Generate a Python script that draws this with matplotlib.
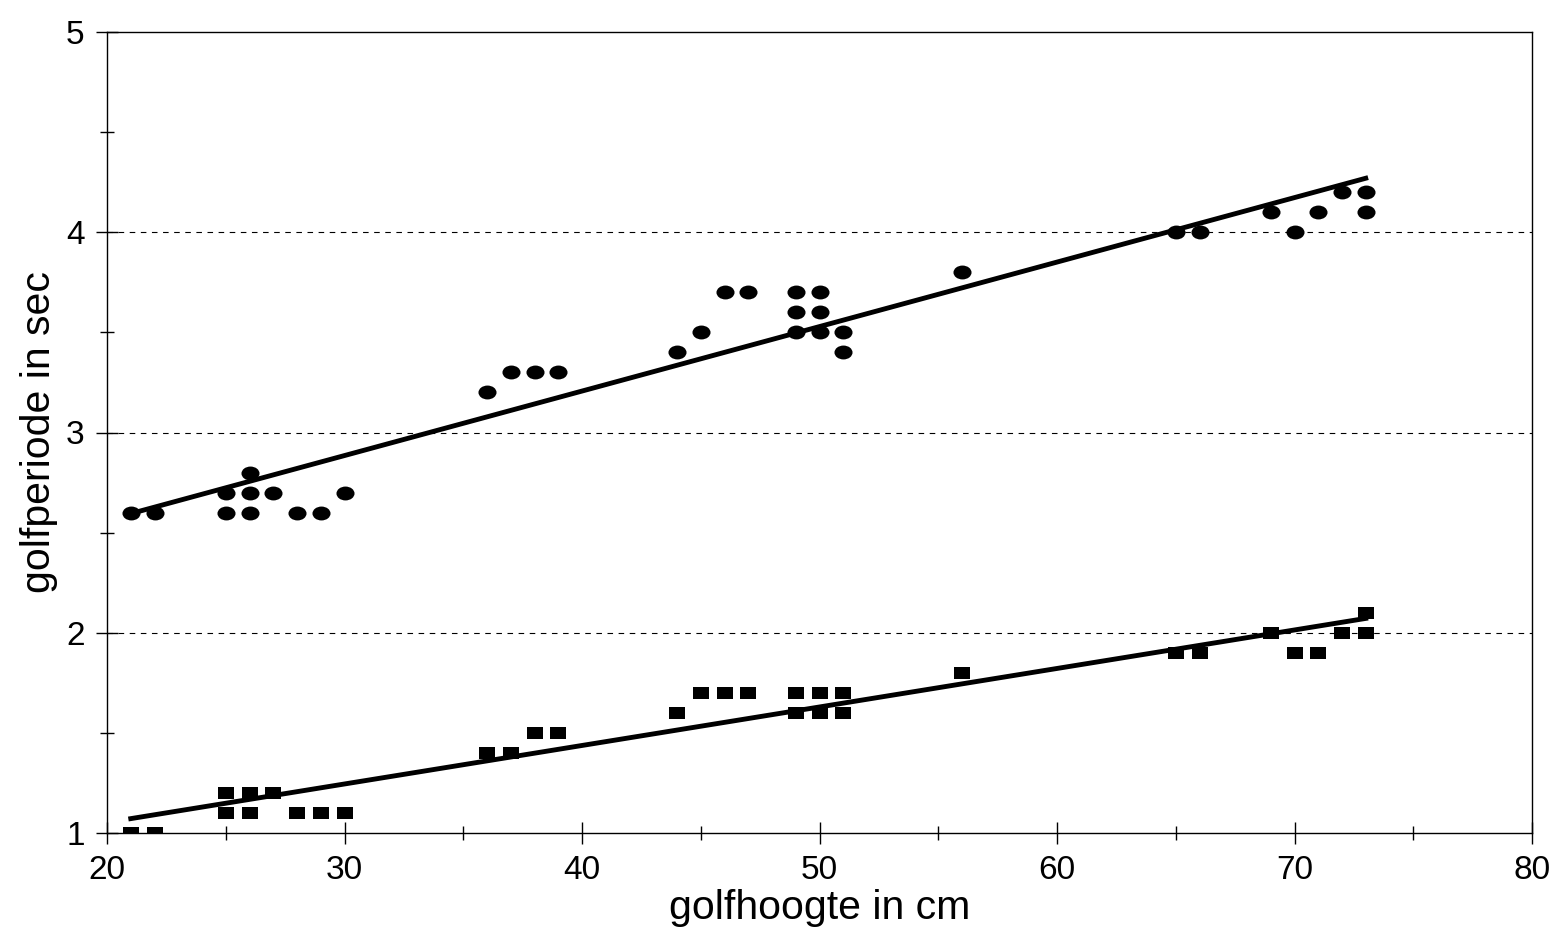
import numpy as np
import matplotlib.pyplot as plt
from matplotlib.markers import MarkerStyle
from matplotlib.transforms import Affine2D
from matplotlib.ticker import MultipleLocator

plt.rcParams['font.family'] = ['Liberation Sans', 'DejaVu Sans']

# golfperiode (circles)
x_per = [21, 22, 25, 25, 26, 26, 26, 27, 28, 29, 30, 36, 37, 38, 39, 44, 45, 46, 47,
         49, 49, 49, 50, 50, 50, 51, 51, 56, 65, 66, 69, 70, 71, 72, 73, 73]
y_per = [2.6, 2.6, 2.7, 2.6, 2.8, 2.7, 2.6, 2.7, 2.6, 2.6, 2.7, 3.2, 3.3, 3.3, 3.3, 3.4, 3.5, 3.7, 3.7,
         3.7, 3.6, 3.5, 3.7, 3.6, 3.5, 3.5, 3.4, 3.8, 4.0, 4.0, 4.1, 4.0, 4.1, 4.2, 4.2, 4.1]

# second series (squares)
x_sq = [21, 22, 25, 25, 26, 26, 27, 28, 29, 30, 36, 37, 38, 39, 44, 45, 46, 47,
        49, 49, 50, 50, 51, 51, 56, 65, 66, 69, 70, 71, 72, 73, 73]
y_sq = [1.0, 1.0, 1.2, 1.1, 1.2, 1.1, 1.2, 1.1, 1.1, 1.1, 1.4, 1.4, 1.5, 1.5, 1.6, 1.7, 1.7, 1.7,
        1.7, 1.6, 1.7, 1.6, 1.7, 1.6, 1.8, 1.9, 1.9, 2.0, 1.9, 1.9, 2.0, 2.1, 2.0]

fig = plt.figure(figsize=(15.54, 9.42), dpi=100)
ax = fig.add_axes([107/1554, 1 - 833/942, (1532-107)/1554, (833-32)/942])

circ = MarkerStyle('o', transform=Affine2D().scale(1.3, 1.0))
sq = MarkerStyle('s', transform=Affine2D().scale(1.4, 1.0))

ax.scatter(x_per, y_per, marker=circ, s=100, color='black', lw=0, zorder=3)
ax.scatter(x_sq, y_sq, marker=sq, s=75, color='black', lw=0, zorder=3)

# trend lines (least squares)
for xs, ys in [(x_per, y_per), (x_sq, y_sq)]:
    a, b = np.polyfit(xs, ys, 1)
    xx = np.array([min(xs), max(xs)])
    ax.plot(xx, a * xx + b, color='black', lw=3.5, zorder=4)

for g in [2, 3, 4]:
    ax.axhline(g, color='black', lw=0.8, ls=(0, (5, 5)), zorder=1)

ax.set_xlim(20, 80)
ax.set_ylim(1, 5)
ax.xaxis.set_major_locator(MultipleLocator(10))
ax.xaxis.set_minor_locator(MultipleLocator(5))
ax.yaxis.set_major_locator(MultipleLocator(1))
ax.yaxis.set_minor_locator(MultipleLocator(0.5))
ax.tick_params(which='major', direction='inout', length=16, width=1, labelsize=24, pad=8)
ax.tick_params(which='minor', direction='inout', length=10, width=1)
for s in ax.spines.values():
    s.set_linewidth(1)

ax.set_xlabel('golfhoogte in cm', fontsize=29.5, labelpad=2)
ax.set_ylabel('golfperiode in sec', fontsize=29.5, labelpad=6)

fig.savefig('out.png', dpi=100)
